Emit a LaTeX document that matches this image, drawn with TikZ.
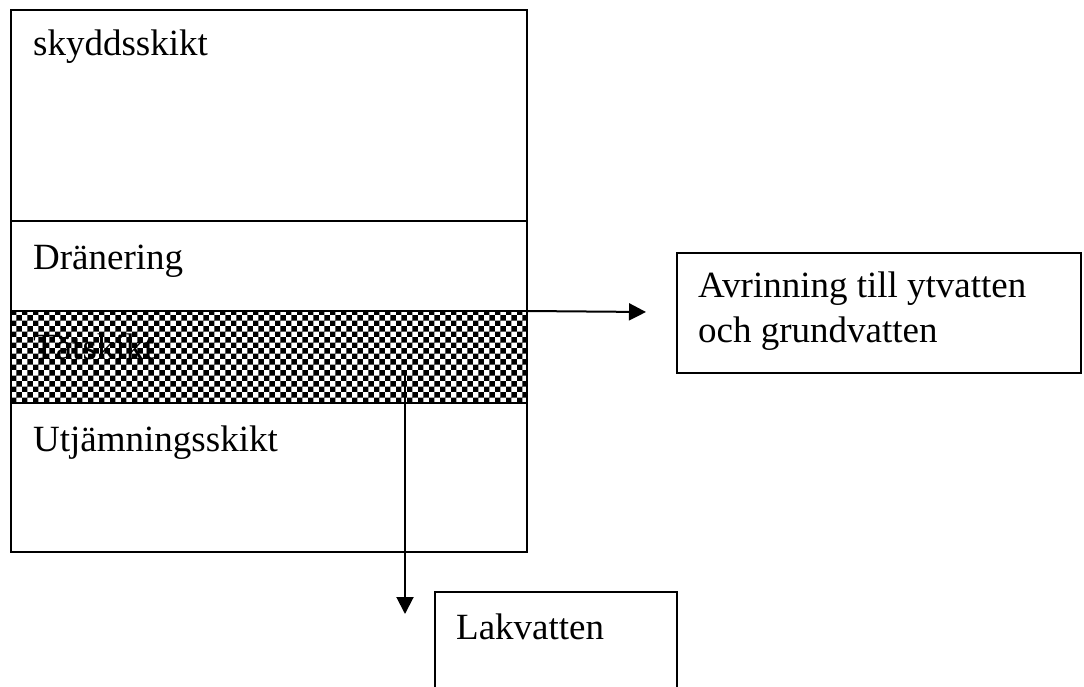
\documentclass[tikz,border=0pt]{standalone}
\usepackage{fontspec}
\setmainfont{Liberation Serif}
\usetikzlibrary{patterns,arrows.meta}
\begin{document}
\begin{tikzpicture}[x=1pt,y=-1pt,
  layer/.style={draw=black,line width=2.2pt,inner sep=0pt,outer sep=0pt},
  lbl/.style={anchor=base west,inner sep=0pt,font=\fontsize{37}{45}\selectfont},
  conn/.style={line width=2pt,-{Triangle[length=17pt,width=17pt]}}]
\useasboundingbox (0,0) rectangle (1084,687);
% layers
\node[layer,minimum width=516pt,minimum height=211pt,anchor=north west] (skydd) at (11,10) {};
\node[layer,minimum width=516pt,minimum height=90pt,anchor=north west] (dran) at (11,221) {};
\node[layer,pattern=checkerboard,pattern color=black,minimum width=516pt,minimum height=92pt,anchor=north west] (tat) at (11,311) {};
\node[layer,minimum width=516pt,minimum height=149pt,anchor=north west] (utj) at (11,403) {};
\node[lbl] (t1) at (33,56) {skyddsskikt};
\node[lbl] (t2) at (33,269) {Dränering};
\node[lbl] (t3) at (33,359) {Tätskikt};
\node[lbl] (t4) at (33,451) {Utjämningsskikt};
% right box
\node[layer,minimum width=404pt,minimum height=120pt,anchor=north west] (avr) at (677,253) {};
\node[lbl,align=left,anchor=base west] (avrtxt) at (698,342) {Avrinning till ytvatten\\och grundvatten};
% bottom box
\node[layer,minimum width=242pt,minimum height=120pt,anchor=north west] (lak) at (435,592) {};
\node[lbl] (laktxt) at (456,639) {Lakvatten};
% connectors
\coordinate (a1) at (646,312);
\coordinate (v0) at (405,372);
\coordinate (v1) at (405,614);
\draw[conn] (tat.north east) -- (a1);
\draw[conn] (v0) -- (v1);
\end{tikzpicture}
\end{document}
